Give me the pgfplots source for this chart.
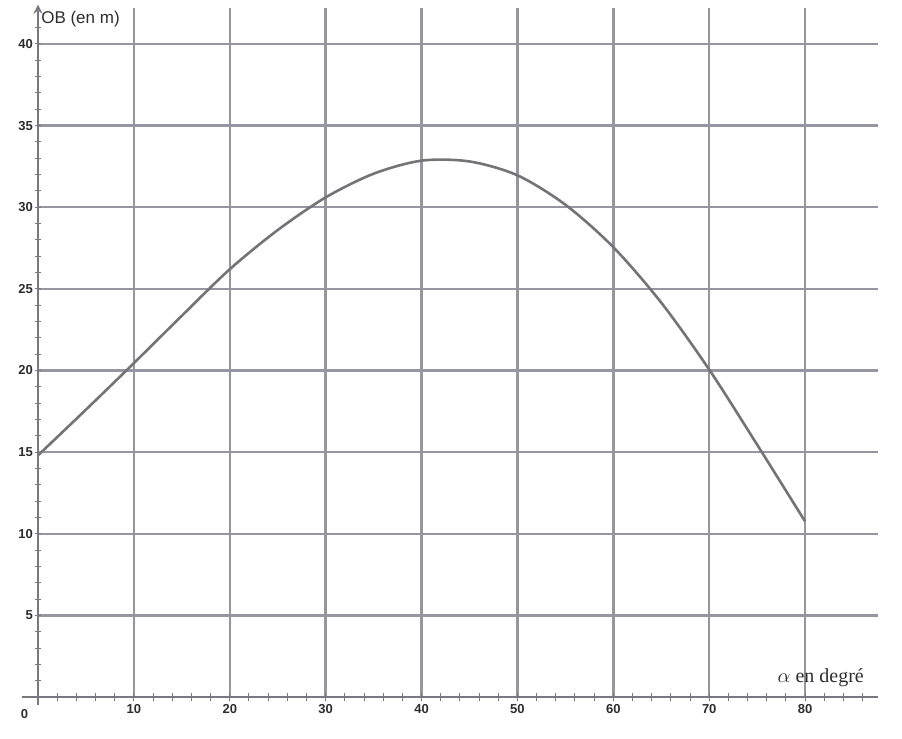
\documentclass[border=0pt]{standalone}
\usepackage{pgfplots}
\pgfplotsset{compat=1.18}
\usepackage{fontspec}
\setmainfont{Liberation Serif}
\setsansfont{Liberation Sans}
\definecolor{gridgray}{RGB}{150,150,160}
\definecolor{axgray}{RGB}{120,120,128}
\definecolor{curvegray}{RGB}{115,115,120}
\definecolor{txt}{RGB}{45,45,45}
\begin{document}
\begin{tikzpicture}
\begin{axis}[
  scale only axis,
  width=420pt, height=344.5pt,
  xmin=0, xmax=87.6, ymin=0, ymax=42.2,
  axis line style={draw=none},
  clip=false,
  xtick={10,20,...,80},
  ytick={5,10,...,40},
  major tick length=0pt,
  grid=major,
  major grid style={gridgray, line width=1.2pt},
  xticklabel style={font=\sffamily\bfseries\fontsize{6.5}{7}\selectfont, text=txt, yshift=0pt},
  yticklabel style={font=\sffamily\bfseries\fontsize{6.5}{7}\selectfont, text=txt, xshift=1pt},
  /pgf/number format/assume math mode=true,
]
\addplot[curvegray, line width=1.3pt, smooth] coordinates {
(0,14.8) (5,17.6) (10,20.45) (15,23.35) (20,26.2) (25,28.6) (30,30.6)
(35,32.05) (40,32.85) (45,32.8) (50,31.95) (55,30.15)
(60,27.55) (65,24.15) (70,20.05) (75,15.45) (80,10.75)};
% axes
\draw[axgray, line width=1pt] (axis cs:-1.7,0) -- (axis cs:87.6,0);
\draw[axgray, line width=1pt, -stealth] (axis cs:0,-0.5) -- (axis cs:0,42.4);
% minor ticks on axes
\pgfplotsinvokeforeach{2,4,...,86}{\draw[axgray, line width=0.5pt] (axis cs:#1,-0.25) -- (axis cs:#1,0.25);}
\pgfplotsinvokeforeach{1,...,41}{\draw[axgray, line width=0.5pt] (axis cs:-0.3,#1) -- (axis cs:0.3,#1);}
\node[font=\sffamily\bfseries\fontsize{6.5}{7}\selectfont, text=txt, anchor=north] at (axis cs:-1.4,-0.35) {0};
\node[font=\sffamily\fontsize{8.5}{9}\selectfont, text=txt, anchor=north west, inner sep=0pt] at (axis cs:0.3,42.05) {OB (en m)};
\node[font=\fontsize{10}{11}\selectfont, text=txt, anchor=base west, inner sep=0pt] at (axis cs:77.1,0.9) {$\alpha$ en degré};
\end{axis}
\path[use as bounding box] ([xshift=-19pt,yshift=-20.5pt]current axis.south west) rectangle ([xshift=12pt,yshift=4pt]current axis.north east);
\end{tikzpicture}
\end{document}
